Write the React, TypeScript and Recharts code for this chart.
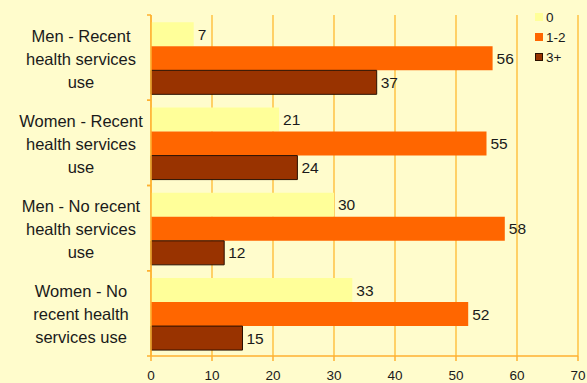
import { Bar, BarChart, CartesianGrid, LabelList, XAxis, YAxis } from 'recharts';

const categories = [
  'Men - Recent health services use',
  'Women - Recent health services use',
  'Men - No recent health services use',
  'Women - No recent health services use',
];
const categoryLines = [
  ['Men - Recent', 'health services', 'use'],
  ['Women - Recent', 'health services', 'use'],
  ['Men - No recent', 'health services', 'use'],
  ['Women - No', 'recent health', 'services use'],
];
const zero = [7, 21, 30, 33];
const oneTwo = [56, 55, 58, 52];
const threePlus = [37, 24, 12, 15];
const xTicks = [0, 10, 20, 30, 40, 50, 60, 70];

const series = [
  { key: 'zero', name: '0', fill: '#FFFF99', stroke: 'none' },
  { key: 'oneTwo', name: '1-2', fill: '#FF6600', stroke: 'none' },
  { key: 'threePlus', name: '3+', fill: '#993300', stroke: '#2a1000' },
];

const chartData = categories.map((name, i) => ({
  name,
  zero: zero[i],
  oneTwo: oneTwo[i],
  threePlus: threePlus[i],
}));

const font = 'Liberation Sans, Arial, sans-serif';
const axisColor = '#FFB030';
const gridColor = '#FFA500';

const CategoryTick = ({ x, y, payload, index }: any) => {
  const lines = categoryLines[index] || [payload.value];
  const half = payload.offset || 42.6;
  return (
    <g>
      <line x1={x + 4} x2={x + 8} y1={y - half} y2={y - half} stroke={axisColor} strokeWidth={1.5} />
      <line x1={x + 4} x2={x + 8} y1={y + half} y2={y + half} stroke={axisColor} strokeWidth={1.5} />
      <text x={81} y={y} textAnchor="middle" fontFamily={font} fontSize={16.5} fill="#1a1a1a">
        {lines.map((l: string, k: number) => (
          <tspan key={k} x={81} dy={k === 0 ? -(lines.length - 1) * 11.5 + 7 : 23}>
            {l}
          </tspan>
        ))}
      </text>
    </g>
  );
};

const App = () => (
  <div style={{ position: 'absolute', top: 0, left: 0, width: 587, height: 383, background: '#FFFCCC' }}>
    <BarChart
      width={587}
      height={383}
      data={chartData}
      layout="vertical"
      margin={{ top: 15, right: 9, left: 0, bottom: 0 }}
      barCategoryGap="8.6%"
      barGap={0}
    >
      <CartesianGrid horizontal={false} stroke={gridColor} strokeWidth={1} />
      <XAxis
        type="number"
        domain={[0, 70]}
        ticks={xTicks}
        height={27}
        stroke={axisColor}
        strokeWidth={1.5}
        tickSize={5}
        tickMargin={9}
        tick={{ fill: '#1a1a1a', fontSize: 13.5, fontFamily: font }}
      />
      <YAxis
        type="category"
        dataKey="name"
        width={151}
        stroke={axisColor}
        strokeWidth={1.5}
        tickLine={false}
        tick={<CategoryTick />}
      />
      {series.map((s) => (
        <Bar
          key={s.key}
          dataKey={s.key}
          name={s.name}
          fill={s.fill}
          stroke={s.stroke}
          strokeWidth={1}
          isAnimationActive={false}
        >
          <LabelList dataKey={s.key} position="right" offset={4} fill="#1a1a1a" fontSize={15.5} fontFamily={font} />
        </Bar>
      ))}
    </BarChart>
    <div style={{ position: 'absolute', left: 535, top: 7, fontFamily: font, fontSize: 13.5, color: '#1a1a1a' }}>
      {series.map((s) => (
        <div key={s.key} style={{ display: 'flex', alignItems: 'center', height: 20 }}>
          <span
            style={{
              display: 'inline-block',
              width: 8,
              height: 8,
              background: s.fill,
              border: s.stroke === 'none' ? 'none' : `1px solid ${s.stroke}`,
              boxSizing: 'border-box',
              marginRight: 3,
            }}
          />
          {s.name}
        </div>
      ))}
    </div>
  </div>
);

export default App;
